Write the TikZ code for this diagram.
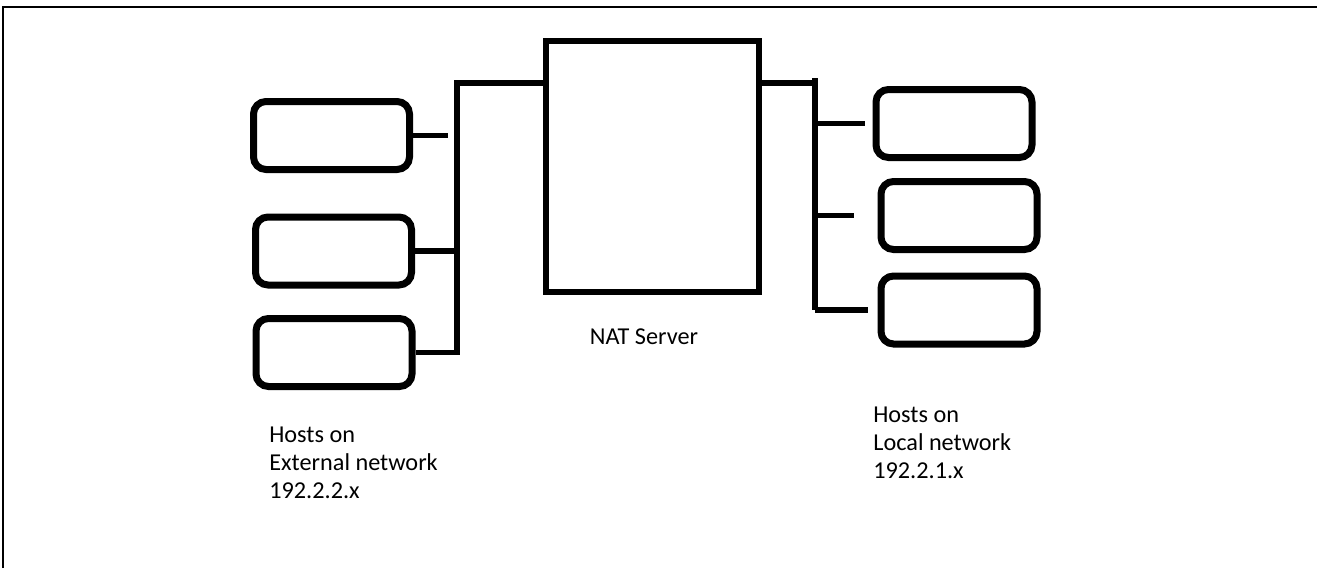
\documentclass[tikz,border=0pt]{standalone}
\usepackage{fontspec}
\setmainfont{Carlito}

\begin{document}
\begin{tikzpicture}
    \pgfmathsetmacro{\picwidth}{26.34}
    \pgfmathsetmacro{\picheight}{11.36}
    \pgfmathsetmacro{\hostwidth}{3.12}
    \pgfmathsetmacro{\hostheight}{1.36}
    \pgfmathsetmacro{\natwidth}{4.26}
    \pgfmathsetmacro{\natheight}{5.02}
    \pgfmathsetmacro{\lbusx}{9.14}
    \pgfmathsetmacro{\rbusx}{16.30}
    \providecommand{\labelfontsize}{\fontsize{13.8pt}{15.9pt}\selectfont}
    \tikzset{
        host/.style={draw,line width=1.4mm,rounded corners=2.5mm,minimum width=\hostwidth*1cm,minimum height=\hostheight*1cm,inner sep=0},
        natbox/.style={draw,line width=1.2mm,minimum width=\natwidth*1cm,minimum height=\natheight*1cm,inner sep=0},
        wire/.style={line width=1.15mm},
        netlabel/.style={align=left,inner sep=0,font=\labelfontsize}
    }
    \useasboundingbox (0,0) rectangle (\picwidth,\picheight);
    \draw[line width=0.4mm] (0.06,0) -- (0.06,11.22) -- (\picwidth,11.22);
    \node[natbox](nat) at (13.05,8.03){};
    \node[inner sep=0,font=\labelfontsize](natlabel) at (12.88,4.62){NAT Server};
    \node[host](ext1) at (6.63,8.65){};
    \node[host](ext2) at (6.67,6.34){};
    \node[host](ext3) at (6.68,4.31){};
    \node[host](loc1) at (19.08,8.89){};
    \node[host](loc2) at (19.18,7.05){};
    \node[host](loc3) at (19.18,5.16){};
    \coordinate (lbustop) at (\lbusx,9.70);
    \coordinate (rbustop) at (\rbusx,9.80);
    \coordinate (rbusbot) at (\rbusx,5.16);
    % external side
    \draw[wire] (ext3.east) -- (ext3.east -| lbustop) -- (lbustop) -- (nat.west |- lbustop);
    \draw[wire] (ext2.east) -- (ext2.east -| lbustop);
    \draw[wire] (ext1.east) -- ([xshift=-0.18cm]ext1.east -| lbustop);
    % local side
    \draw[wire] (nat.east |- lbustop) -- (lbustop -| rbustop);
    \draw[wire] (rbustop) -- (rbusbot);
    \draw[wire] (loc1.west -| rbustop) -- ([xshift=-0.16cm]loc1.west);
    \draw[wire] (loc2.west -| rbustop) -- ([xshift=-0.48cm]loc2.west);
    \draw[wire] (loc3.west -| rbustop) -- ([xshift=-0.2cm]loc3.west);
    \node[netlabel,anchor=west](extlabel) at (5.38,2.10){Hosts on\\External network\\192.2.2.x};
    \node[netlabel,anchor=west](loclabel) at (17.46,2.50){Hosts on\\ Local network\\ 192.2.1.x};
\end{tikzpicture}
\end{document}
